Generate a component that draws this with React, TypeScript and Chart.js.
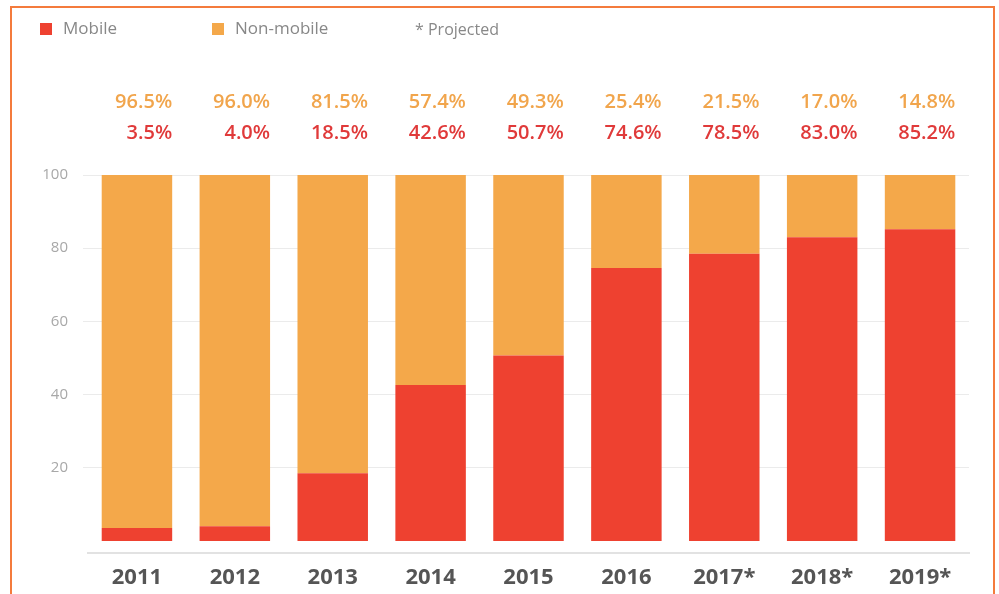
import React, { useEffect, useRef } from "react";
import { Chart, registerables } from "chart.js";

Chart.register(...registerables);

const years = ["2011", "2012", "2013", "2014", "2015", "2016", "2017*", "2018*", "2019*"];
const mobile = [3.5, 4.0, 18.5, 42.6, 50.7, 74.6, 78.5, 83.0, 85.2];
const nonMobile = [96.5, 96.0, 81.5, 57.4, 49.3, 25.4, 21.5, 17.0, 14.8];
const yTicks = [20, 40, 60, 80, 100];

const RED = "#ee4130";
const ORANGE = "#f4a84a";
const RED_TXT = "#e03a3a";
const ORANGE_TXT = "#f1a54c";
const FONT = "'Open Sans', 'Noto Sans', sans-serif";

const decorPlugin = {
  id: "decor",
  beforeDraw(chart: any) {
    const ctx = chart.ctx;
    ctx.save();
    ctx.fillStyle = "#ffffff";
    ctx.fillRect(0, 0, chart.width, chart.height);
    // frame
    ctx.strokeStyle = "#f47b3c";
    ctx.lineWidth = 2;
    ctx.beginPath();
    ctx.moveTo(11, 600);
    ctx.lineTo(11, 7);
    ctx.lineTo(994, 7);
    ctx.lineTo(994, 600);
    ctx.stroke();
    // legend
    ctx.textBaseline = "middle";
    ctx.textAlign = "left";
    ctx.font = `17px ${FONT}`;
    ctx.fillStyle = RED;
    ctx.fillRect(40, 23, 12, 12);
    ctx.fillStyle = "#888888";
    ctx.fillText("Mobile", 63, 29);
    ctx.fillStyle = ORANGE;
    ctx.fillRect(212, 23, 12, 12);
    ctx.fillStyle = "#888888";
    ctx.fillText("Non-mobile", 235, 29);
    ctx.font = `16px ${FONT}`;
    ctx.fillText("* Projected", 415, 30);
    ctx.restore();
  },
  afterDatasetsDraw(chart: any) {
    const ctx = chart.ctx;
    const meta = chart.getDatasetMeta(0);
    ctx.save();
    ctx.textAlign = "right";
    ctx.textBaseline = "middle";
    ctx.font = `600 20px ${FONT}`;
    meta.data.forEach((bar: any, i: number) => {
      const right = bar.x + bar.width / 2;
      ctx.fillStyle = ORANGE_TXT;
      ctx.fillText(nonMobile[i].toFixed(1) + "%", right, 102);
      ctx.fillStyle = RED_TXT;
      ctx.fillText(mobile[i].toFixed(1) + "%", right, 133);
    });
    ctx.restore();
  },
};

export default function App() {
  const ref = useRef<HTMLCanvasElement>(null);
  useEffect(() => {
    document.body.style.margin = "0";
    const chart = new Chart(ref.current!, {
      type: "bar",
      data: {
        labels: years,
        datasets: [
          { label: "Mobile", data: mobile, backgroundColor: RED, borderWidth: 0 },
          { label: "Non-mobile", data: nonMobile, backgroundColor: ORANGE, borderWidth: 0 },
        ],
      },
      options: {
        animation: false,
        responsive: false,
        maintainAspectRatio: false,
        layout: { padding: { top: 175, right: 30, left: 0, bottom: 0 } },
        datasets: { bar: { barPercentage: 0.72, categoryPercentage: 1 } } as any,
        plugins: { legend: { display: false }, tooltip: { enabled: false } },
        scales: {
          x: {
            stacked: true,
            grid: { display: false, drawTicks: false },
            border: { display: true, color: "#e2e2e2", width: 2 },
            ticks: { padding: 12, color: "#555555", font: { family: FONT, size: 22, weight: "bold" } },
            afterFit(scale: any) {
              scale.height = 41;
            },
          },
          y: {
            stacked: true,
            min: -3.3,
            max: 100,
            afterBuildTicks(scale: any) {
              scale.ticks = yTicks.map((v) => ({ value: v }));
            },
            grid: { color: "#ebebeb", lineWidth: 1, tickLength: 5, drawTicks: true },
            border: { display: false },
            ticks: { padding: 15, color: "#a8a8a8", font: { family: FONT, size: 15 } },
            afterFit(scale: any) {
              scale.width = 88;
            },
          },
        },
      } as any,
      plugins: [decorPlugin],
    });
    return () => chart.destroy();
  }, []);
  return (
    <div style={{ position: "absolute", left: 0, top: 0, width: 999, height: 594 }}>
      <canvas ref={ref} width={999} height={594} style={{ width: 999, height: 594 }} />
    </div>
  );
}
